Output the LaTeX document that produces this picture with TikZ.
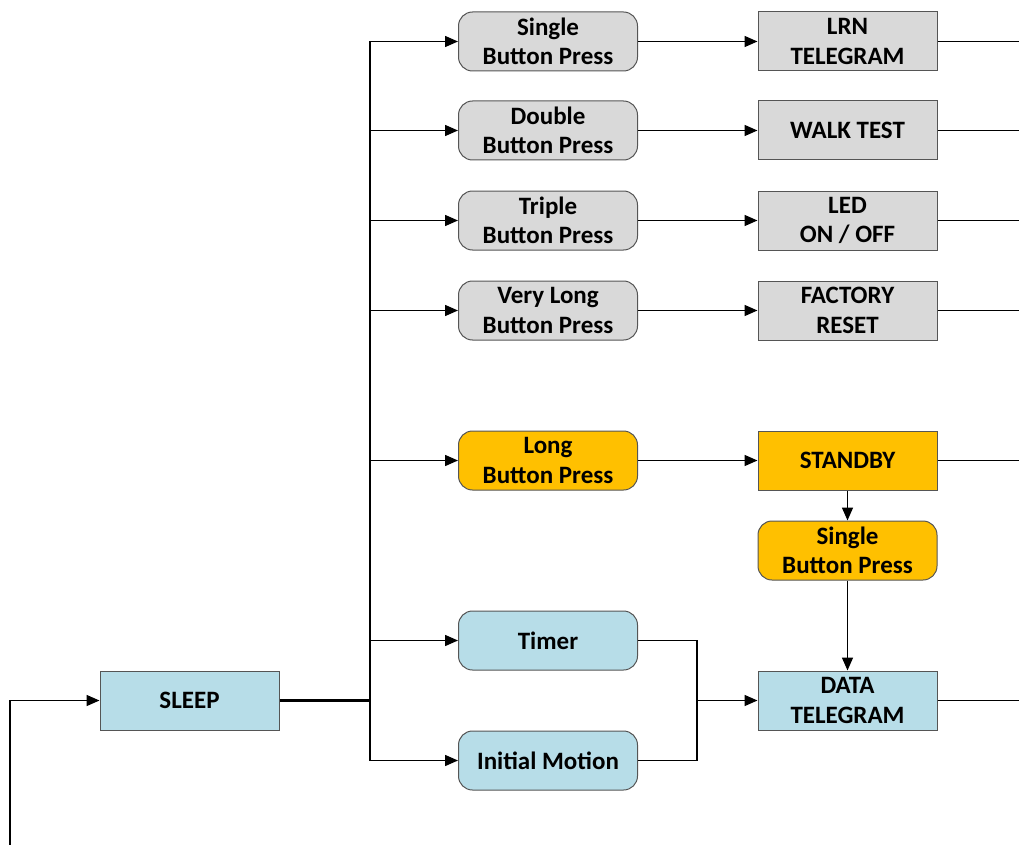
\documentclass[tikz,border=0pt]{standalone}
\usepackage{fontspec}
\setmainfont{Carlito}
\usetikzlibrary{arrows.meta}
\definecolor{gfill}{HTML}{D9D9D9}
\definecolor{yfill}{HTML}{FFC000}
\definecolor{bfill}{HTML}{B7DDE8}
\definecolor{edge}{HTML}{555555}
\tikzset{
  x=1pt,y=-1pt,
  box/.style={draw=edge,line width=1pt,minimum width=179pt,minimum height=59pt,align=center,font=\fontsize{25}{29.5}\selectfont\bfseries,inner sep=0pt},
  rbox/.style={box,rounded corners=14pt},
  conn/.style={line width=1.5pt,black},
  arr/.style={conn,-{Triangle[length=13pt,width=11pt]}},
}
\begin{document}
\begin{tikzpicture}
\useasboundingbox (0,0) rectangle (1019,845);
% nodes
\node[box,fill=bfill] (sleep) at (189.5,700.5) {SLEEP};
\node[rbox,fill=gfill] (b1) at (548,41.5) {Single\\Button Press};
\node[rbox,fill=gfill] (b2) at (548,130.5) {Double\\Button Press};
\node[rbox,fill=gfill] (b3) at (548,220.5) {Triple\\Button Press};
\node[rbox,fill=gfill] (b4) at (548,310.5) {Very Long\\Button Press};
\node[rbox,fill=yfill] (b5) at (548,460.5) {Long\\Button Press};
\node[rbox,fill=bfill] (b6) at (548,640.5) {Timer};
\node[rbox,fill=bfill] (b7) at (548,760.5) {Initial Motion};
\node[box,fill=gfill] (r1) at (847.5,41.5) {LRN\\TELEGRAM};
\node[box,fill=gfill] (r2) at (847.5,130.5) {WALK TEST};
\node[box,fill=gfill] (r3) at (847.5,220.5) {LED\\ON / OFF};
\node[box,fill=gfill] (r4) at (847.5,310.5) {FACTORY\\RESET};
\node[box,fill=yfill] (r5) at (847.5,460.5) {STANDBY};
\node[rbox,fill=yfill] (r6) at (847.5,550.5) {Single\\Button Press};
\node[box,fill=bfill] (r7) at (847.5,700.5) {DATA\\TELEGRAM};
% coordinates
\coordinate (bus) at (370,700.5);
\coordinate (bustop) at (370,41.5);
\coordinate (busbot) at (370,760.5);
\coordinate (loopstart) at (10,845);
\coordinate (loopturn) at (10,700.5);
\coordinate (join) at (697,700.5);
% bus
\draw[line width=2.4pt] (sleep.east) -- (bus);
\draw[conn] (bustop) -- (busbot);
\foreach \b in {b1,b2,b3,b4,b5,b6,b7} {
  \draw[arr] (bustop |- \b.west) -- (\b.west);
}
% to right boxes
\foreach \i in {1,2,3,4,5} {
  \draw[arr] (b\i.east) -- (r\i.west);
}
\foreach \i in {1,2,3,4,5,7} {
  \draw[conn] (r\i.east) -- ++(82,0);
}
\draw[arr] (r5.south) -- (r6.north);
\draw[arr] (r6.south) -- (r7.north);
\draw[conn] (b6.east) -| (join);
\draw[conn] (b7.east) -| (join);
\draw[arr] (join) -- (r7.west);
\draw[arr] (loopstart) -- (loopturn) -- (sleep.west);
\end{tikzpicture}
\end{document}
